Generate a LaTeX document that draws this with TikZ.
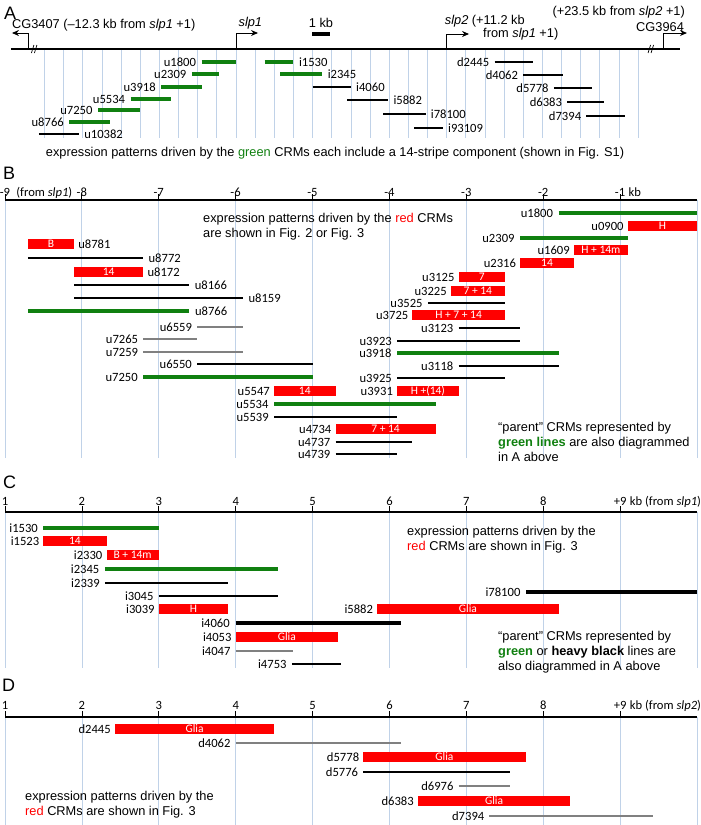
\documentclass[tikz,border=0pt]{standalone}
\usepackage{fontspec}
\setmainfont{Liberation Sans}
\newfontfamily\calib{Carlito}
\usetikzlibrary{arrows.meta}
\definecolor{crmgreen}{RGB}{16,128,16}
\definecolor{crmred}{RGB}{255,0,0}
\definecolor{gridblue}{RGB}{192,210,232}
\definecolor{crmgray}{RGB}{128,128,128}

\begin{document}
\begin{tikzpicture}[x=1pt,y=-1pt]
    \tikzstyle{grid}=[gridblue, line width=0.8pt]
    \tikzstyle{axis}=[line width=1.2pt]
    \tikzstyle{grn}=[crmgreen, line width=3.2pt]
    \tikzstyle{blk}=[black, line width=2.6pt]
    \tikzstyle{heavy}=[black, line width=4pt]
    \tikzstyle{gry}=[crmgray, line width=2.4pt]
    \tikzstyle{lab}=[font=\calib\fontsize{12.6}{14}\selectfont, text=black, inner sep=1pt]
    \tikzstyle{txt}=[font=\fontsize{12.8}{15}\selectfont, text=black, inner sep=0pt, align=left]
    \tikzstyle{panel}=[font=\fontsize{18}{20}\selectfont, inner sep=0pt, anchor=west]
    \tikzstyle{ticklab}=[font=\calib\fontsize{12.6}{14}\selectfont, inner sep=0pt]
    \tikzstyle{bartext}=[font=\calib\fontsize{11.5}{12}\selectfont, text=white, inner sep=0pt]
    \tikzstyle{prom}=[line width=1pt, -{Stealth[length=7pt,width=6pt]}]

    \useasboundingbox (0,0) rectangle (701,825);

    % A: map of the locus
    \node[panel] (labA) at (4,13) {A};
    \begin{scope}[xshift=236pt, x=19.15pt]
        \foreach \k in {-10,...,21}
            \draw[grid] (\k,49) -- (\k,138);
        \draw[axis] (-11.75,49) -- (23.2,49);
        \foreach \b in {-10.5,21.7} {
            \draw[line width=0.7pt] (\b,49) ++(-3.5pt,-4pt) -- ++(2.5pt,8pt);
            \draw[line width=0.7pt] (\b,49) ++(-0.5pt,-4pt) -- ++(2.5pt,8pt);
        }
        \draw[prom] (-10.86,49) -- (-10.86,33) -- (-11.7,33);
        \draw[prom] (0,49) -- (0,33) -- (1.15,33);
        \draw[prom] (11.0,49) -- (11.0,34) -- (12.17,34);
        \draw[prom] (22.31,49) -- (22.31,33) -- (23.55,33);
        \node[txt, anchor=west] (cg3407) at (-11.7,25) {CG3407 (–12.3 kb from \textit{slp1} +1)};
        \node[txt] (slp1) at (0.75,23) {\textit{slp1}};
        \draw[line width=3.5pt] (3.97,34) -- (4.91,34);
        \node[txt] (onekb) at (4.44,23) {1 kb};
        \node[txt, anchor=west] (slp2) at (10.9,21) {\textit{slp2} (+11.2 kb};
        \node[txt, anchor=west] (slp2b) at (12.9,34) {from \textit{slp1} +1)};
        \node[txt, anchor=east] (cg3964b) at (23.45,12) {(+23.5 kb from \textit{slp2} +1)};
        \node[txt, anchor=east] (cg3964) at (23.4,27) {CG3964};

        \foreach \n/\a/\b/\y in {u1800/-1.8/0/62, u2309/-2.3/-0.9/74, u3918/-3.9/-1.8/87,
                u5534/-5.5/-3.4/99, u7250/-7.2/-5.0/110, u8766/-8.7/-6.6/122}
            \draw[grn] (\a,\y) node[lab, left=3pt] (A-\n) {\n} -- (\b,\y);
        \foreach \n/\a/\b/\y in {i1530/1.5/3.0/62, i2345/2.3/4.5/74}
            \draw[grn] (\a,\y) -- (\b,\y) node[lab, right=3pt] (A-\n) {\n};
        \foreach \n/\a/\b/\y in {u10382/-10.3/-8.2/134, i4060/4.0/6.0/87, i5882/5.8/7.95/100,
                i78100/7.7/9.9/114, i93109/9.3/10.8/128}
            \draw[blk] (\a,\y) -- (\b,\y) node[lab, right=3pt] (A-\n) {\n};
        \foreach \n/\a/\b/\y in {d2445/13.5/15.5/62, d4062/15.0/17.1/75, d5778/16.6/18.6/88,
                d6383/17.3/19.2/102, d7394/18.3/20.3/116}
            \draw[blk] (\a,\y) node[lab, left=3pt] (A-\n) {\n} -- (\b,\y);
    \end{scope}
    \node[txt] (noteA) at (335,153) {expression patterns driven by the \textcolor{crmgreen}{green} CRMs each include a 14-stripe component (shown in Fig. S1)};

    % B: upstream of slp1
    \node[panel] (labB) at (3,173) {B};
    \begin{scope}[xshift=697pt, x=76.9pt]
        \foreach \k in {-9,...,0}
            \draw[grid] (\k,200) -- (\k,458);
        \draw[axis] (-9,200) -- (0,200);
        \foreach \k [count=\i] in {-9,...,-1} {
            \draw[line width=0.8pt] (\k,200) -- (\k,194);
            \node[ticklab] (tB\i) at (\k,192) {\k};
        }
        \node[ticklab, anchor=base west] (fromB) at ([xshift=6pt]tB1.base east) {(from \textit{slp1})};
        \node[ticklab, anchor=base west] (kbB) at ([xshift=3pt]tB9.base east) {kb};

        \foreach \n/\a/\b/\y in {u1800/-1.8/0/213, u2309/-2.3/-0.9/238, u3918/-3.9/-1.8/353,
                u7250/-7.2/-5.0/377, u5534/-5.5/-3.4/404}
            \draw[grn] (\a,\y) node[lab, left=3pt] (B-\n) {\n} -- (\b,\y);
        \draw[grn] (-8.7,311) -- (-6.6,311) node[lab, right=3pt] (B-u8766) {u8766};
        \foreach \n/\a/\b/\y in {u8772/-8.7/-7.2/258, u8166/-8.1/-6.6/285, u8159/-8.1/-5.9/298}
            \draw[blk] (\a,\y) -- (\b,\y) node[lab, right=3pt] (B-\n) {\n};
        \foreach \n/\a/\b/\y in {u3525/-3.5/-2.5/303, u3123/-3.1/-2.3/328, u3923/-3.9/-2.3/341,
                u6550/-6.5/-5.0/364, u3118/-3.1/-1.8/366, u3925/-3.9/-2.5/378,
                u5539/-5.5/-3.9/417, u4737/-4.7/-3.7/442, u4739/-4.7/-3.9/454}
            \draw[blk] (\a,\y) node[lab, left=3pt] (B-\n) {\n} -- (\b,\y);
        \foreach \n/\a/\b/\y in {u6559/-6.5/-5.9/327, u7265/-7.2/-6.5/339, u7259/-7.2/-5.9/352}
            \draw[gry] (\a,\y) node[lab, left=3pt] (B-\n) {\n} -- (\b,\y);
        \foreach \n/\a/\b/\y/\t in {u8781/-8.7/-8.1/244/B, u8172/-8.1/-7.2/272/14} {
            \fill[crmred] (\a,\y-5) rectangle node[bartext] (B-\n-bar) {\t} (\b,\y+5);
            \node[lab, right=3pt] (B-\n) at (\b,\y) {\n};
        }
        \foreach \n/\a/\b/\y/\t in {u0900/-0.9/0/226/H, u1609/-1.6/-0.9/250/H + 14m,
                u2316/-2.3/-1.6/263/14, u3125/-3.1/-2.5/277/7, u3225/-3.2/-2.5/291/7 + 14,
                u3725/-3.7/-2.5/315/H + 7 + 14, u5547/-5.5/-4.7/391/14,
                u3931/-3.9/-3.1/391/H +(14), u4734/-4.7/-3.4/429/7 + 14} {
            \fill[crmred] (\a,\y-5) rectangle node[bartext] (B-\n-bar) {\t} (\b,\y+5);
            \node[lab, left=3pt] (B-\n) at (\a,\y) {\n};
        }
    \end{scope}
    \node[txt, anchor=west] (noteB) at (203,227) {expression patterns driven by the \textcolor{crmred}{red} CRMs\\are shown in Fig. 2 or Fig. 3};
    \node[txt, anchor=west] (parentB) at (498,442) {“parent” CRMs represented by\\\textcolor{crmgreen}{\textbf{green lines}} are also diagrammed\\in A above};

    % C: intron / between slp1 and slp2
    \node[panel] (labC) at (3,482) {C};
    \begin{scope}[xshift=-71.9pt, x=76.9pt]
        \foreach \k in {1,...,10}
            \draw[grid] (\k,512) -- (\k,668);
        \draw[axis] (1,512) -- (10,512);
        \foreach \k in {1,...,8} {
            \draw[line width=0.8pt] (\k,512) -- (\k,506);
            \node[ticklab] (tC\k) at (\k,501) {\k};
        }
        \draw[line width=0.8pt] (9,512) -- (9,506);
        \node[ticklab] (tC9) at (9,501) {+9};
        \node[ticklab, anchor=base west] (kbC) at ([xshift=3pt]tC9.base east) {kb (from \textit{slp1})};

        \foreach \n/\a/\b/\y in {i1530/1.5/3.0/528, i2345/2.3/4.55/569}
            \draw[grn] (\a,\y) node[lab, left=3pt] (C-\n) {\n} -- (\b,\y);
        \foreach \n/\a/\b/\y in {i2339/2.3/3.9/583, i3045/3.0/4.55/596, i4753/4.73/5.37/664}
            \draw[blk] (\a,\y) node[lab, left=3pt] (C-\n) {\n} -- (\b,\y);
        \foreach \n/\a/\b/\y in {i78100/7.78/10.0/592, i4060/4.0/6.15/623}
            \draw[heavy] (\a,\y) node[lab, left=3pt] (C-\n) {\n} -- (\b,\y);
        \draw[gry] (4.0,651) node[lab, left=3pt] (C-i4047) {i4047} -- (4.75,651);
        \foreach \n/\a/\b/\y/\t in {i1523/1.5/2.32/541/14, i2330/2.32/3.0/555/B + 14m,
                i3039/3.0/3.9/609/H, i5882/5.84/8.2/609/Glia, i4053/4.0/5.33/637/Glia} {
            \fill[crmred] (\a,\y-5) rectangle node[bartext] (C-\n-bar) {\t} (\b,\y+5);
            \node[lab, left=3pt] (C-\n) at (\a,\y) {\n};
        }
    \end{scope}
    \node[txt, anchor=west] (noteC) at (407,540) {expression patterns driven by the\\\textcolor{crmred}{red} CRMs are shown in Fig. 3};
    \node[txt, anchor=west] (parentC) at (498,652) {“parent” CRMs represented by\\\textcolor{crmgreen}{\textbf{green}} or \textbf{heavy black} lines are\\also diagrammed in A above};

    % D: downstream of slp2
    \node[panel] (labD) at (2,685) {D};
    \begin{scope}[xshift=-71.9pt, x=76.9pt]
        \foreach \k in {1,...,10}
            \draw[grid] (\k,717) -- (\k,825);
        \draw[axis] (1,717) -- (10,717);
        \foreach \k in {1,...,8} {
            \draw[line width=0.8pt] (\k,717) -- (\k,711);
            \node[ticklab] (tD\k) at (\k,705) {\k};
        }
        \draw[line width=0.8pt] (9,717) -- (9,711);
        \node[ticklab] (tD9) at (9,705) {+9};
        \node[ticklab, anchor=base west] (kbD) at ([xshift=3pt]tD9.base east) {kb (from \textit{slp2})};

        \foreach \n/\a/\b/\y in {d4062/4.0/6.15/743, d6976/6.9/7.57/786, d7394/7.3/9.43/816}
            \draw[gry] (\a,\y) node[lab, left=3pt] (D-\n) {\n} -- (\b,\y);
        \draw[blk] (5.66,772) node[lab, left=3pt] (D-d5776) {d5776} -- (7.57,772);
        \foreach \n/\a/\b/\y/\t in {d2445/2.43/4.5/729/Glia, d5778/5.66/7.77/757/Glia,
                d6383/6.37/8.35/801/Glia} {
            \fill[crmred] (\a,\y-5) rectangle node[bartext] (D-\n-bar) {\t} (\b,\y+5);
            \node[lab, left=3pt] (D-\n) at (\a,\y) {\n};
        }
    \end{scope}
    \node[txt, anchor=west] (noteD) at (25,805) {expression patterns driven by the\\\textcolor{crmred}{red} CRMs are shown in Fig. 3};
\end{tikzpicture}
\end{document}
